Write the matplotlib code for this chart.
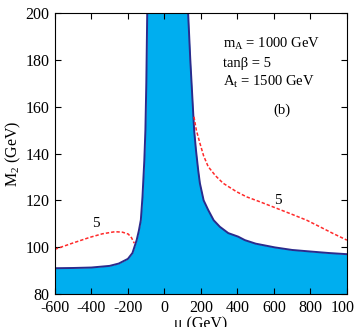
import matplotlib
matplotlib.use('Agg')
import matplotlib.pyplot as plt

plt.rcParams['font.family'] = ['Liberation Serif', 'DejaVu Serif']
plt.rcParams['mathtext.fontset'] = 'custom'
plt.rcParams['mathtext.rm'] = 'Liberation Serif'
plt.rcParams['mathtext.it'] = 'Liberation Serif:italic'
plt.rcParams['axes.unicode_minus'] = False

# Boundary of the excluded (shaded) region, left branch
mu_left = [-600, -500, -400, -300, -250, -200, -175, -152, -140, -129, -120, -110, -104, -99, -94]
m2_left = [91.0, 91.1, 91.3, 92.0, 93.0, 95.0, 97.5, 103, 107, 111.6, 121.5, 137, 150, 170, 200]

# right branch
mu_right = [130, 142, 154, 163, 173, 185, 194.5, 215, 240, 270, 304, 350, 404, 441, 500, 605, 700, 806, 900, 1000]
m2_right = [200, 180, 162.8, 150, 141.5, 133, 127.3, 120, 115.9, 111.5, 108.7, 106, 104.5, 103, 101.5, 99.9, 98.8, 98.1, 97.5, 97]

# dashed contour "5"
mu_c5_left = [-600, -500, -408, -340, -271, -230, -198, -180, -165]
m2_c5_left = [99.1, 101.8, 104.2, 105.7, 106.6, 106.4, 105.6, 104.0, 101.7]
mu_c5_right = [162, 175, 195, 215, 240, 280, 322, 395, 450, 523, 615, 700, 780, 852, 920, 1000]
m2_c5_right = [155.7, 150, 144.3, 139, 134.4, 130.5, 127.3, 123.7, 121.5, 119.4, 116.6, 114, 111.5, 108.7, 106, 103]

fill_col = '#00AEEF'
edge_col = '#2B2B8C'

fig = plt.figure(figsize=(3.54, 3.27), dpi=100)
ax = fig.add_axes([0.155, 0.101, 0.825, 0.859])

# shaded region
mu_all = mu_left + mu_right
m2_all = m2_left + m2_right
ax.fill_between(mu_all, 80, m2_all, color=fill_col, linewidth=0)
ax.plot(mu_left, m2_left, color=edge_col, lw=1.4)
ax.plot(mu_right, m2_right, color=edge_col, lw=1.4)

# dashed contours
ax.plot(mu_c5_left, m2_c5_left, color='#FF2A2A', lw=1.1, ls=(0, (2.2, 1.3)))
ax.plot(mu_c5_right, m2_c5_right, color='#FF2A2A', lw=1.1, ls=(0, (2.2, 1.3)))
ax.text(-377, 110, '5', fontsize=11, ha='center', va='center')
ax.text(624, 119.8, '5', fontsize=11, ha='center', va='center')

ax.text(319, 186.7, 'm$_\\mathrm{A}$ = 1000 GeV', fontsize=10.5, ha='left', va='center')
ax.text(319, 178.4, 'tanβ = 5', fontsize=10.5, ha='left', va='center')
ax.text(319, 170.5, 'A$_\\mathrm{t}$ = 1500 GeV', fontsize=10.5, ha='left', va='center')
ax.text(642, 158.6, '(b)', fontsize=10.5, ha='center', va='center')

ax.set_xlim(-600, 1000)
ax.set_ylim(80, 200)
ax.set_xticks(range(-600, 1001, 200))
ax.set_yticks(range(80, 201, 20))
ax.tick_params(direction='in', top=True, right=True, length=4, width=0.8, labelsize=11.5, pad=4)
ax.set_xlabel('μ (GeV)', fontsize=11.5, labelpad=0)
ax.set_ylabel('M$_\\mathrm{2}$ (GeV)', fontsize=11.5, labelpad=2)
for s in ax.spines.values():
    s.set_linewidth(0.8)

fig.savefig('out.png', dpi=100)
